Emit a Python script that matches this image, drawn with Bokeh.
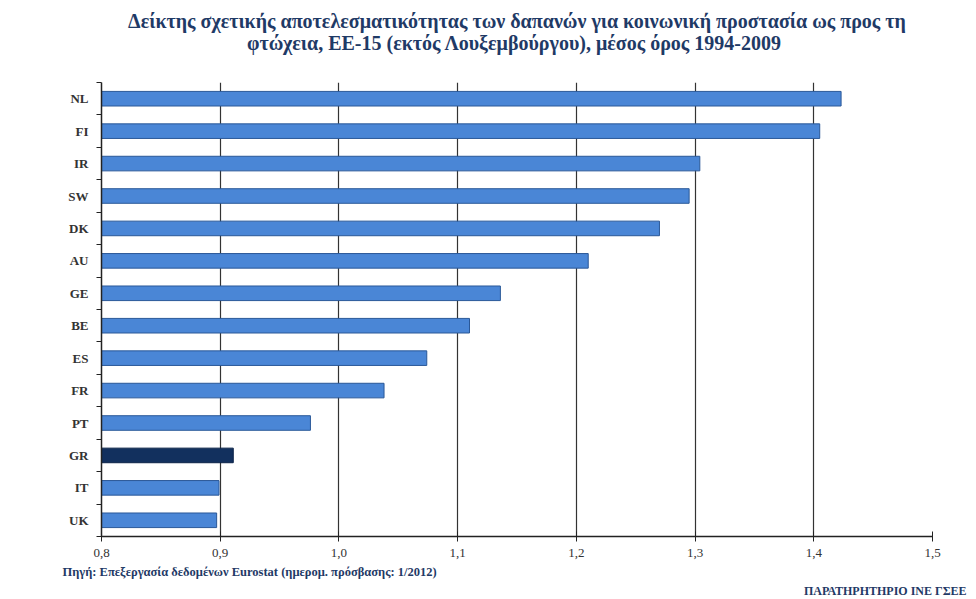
from bokeh.plotting import figure
from bokeh.models import FixedTicker, ColumnDataSource, Range1d, Title
from bokeh.embed import file_html
from bokeh.resources import INLINE

countries = ["NL", "FI", "IR", "SW", "DK", "AU", "GE", "BE", "ES", "FR", "PT", "GR", "IT", "UK"]
values = [1.423, 1.405, 1.304, 1.295, 1.270, 1.210, 1.136, 1.110, 1.074, 1.038, 0.976, 0.911, 0.899, 0.897]
highlight = "GR"
x_ticks = [0.8, 0.9, 1.0, 1.1, 1.2, 1.3, 1.4, 1.5]
x_tick_labels = ["0,8", "0,9", "1,0", "1,1", "1,2", "1,3", "1,4", "1,5"]
title_lines = [
    "Δείκτης σχετικής αποτελεσματικότητας των δαπανών για κοινωνική προστασία ως προς τη",
    "φτώχεια, ΕΕ-15 (εκτός Λουξεμβούργου),  μέσος όρος 1994-2009",
]
source_text = "Πηγή: Επεξεργασία δεδομένων Eurostat (ημερομ. πρόσβασης: 1/2012)"
credit_text = "ΠΑΡΑΤΗΡΗΤΗΡΙΟ ΙΝΕ ΓΣΕΕ"

FONT = "Liberation Serif"
n = len(countries)
ys = [n - 0.5 - i for i in range(n)]
fills = ["#12305e" if c == highlight else "#4a86d6" for c in countries]
lines = ["#0c2348" if c == highlight else "#2a5898" for c in countries]
src = ColumnDataSource(dict(y=ys, right=values, left=[x_ticks[0]] * n, fill=fills, line=lines))

W, H = 968, 597
FL, FR, FT, FB = 101, 932, 82, 540
p = figure(width=W, height=H, output_backend="svg", toolbar_location=None,
           x_range=Range1d(0.8, 1.5), y_range=Range1d(0, n),
           min_border_left=FL, min_border_right=W - FR, min_border_top=FT, min_border_bottom=H - FB)
p.outline_line_color = None
p.background_fill_color = "white"

p.hbar(y="y", left="left", right="right", height=0.45, source=src,
       fill_color="fill", line_color="line", line_width=1)

xa = p.xaxis[0]
xa.ticker = FixedTicker(ticks=x_ticks, minor_ticks=[])
xa.major_label_overrides = {t: l for t, l in zip(x_ticks, x_tick_labels)}
xa.major_tick_in = 5
xa.major_tick_out = 5
xa.major_tick_line_color = "#222222"
xa.axis_line_color = "#222222"
xa.axis_line_width = 1.5
xa.major_label_text_font = FONT
xa.major_label_text_font_size = "13px"
xa.major_label_text_color = "#333333"
xa.major_label_standoff = 7

ya = p.yaxis[0]
ya.ticker = FixedTicker(ticks=ys, minor_ticks=list(range(n + 1)))
ya.major_label_overrides = {y: c for y, c in zip(ys, countries)}
ya.major_tick_out = 0
ya.major_tick_in = 0
ya.minor_tick_out = 5
ya.minor_tick_in = 0
ya.minor_tick_line_color = "#222222"
ya.axis_line_color = "#222222"
ya.axis_line_width = 1.5
ya.major_label_text_font = FONT
ya.major_label_text_font_style = "bold"
ya.major_label_text_font_size = "13px"
ya.major_label_text_color = "#333333"
ya.major_label_standoff = 8

p.ygrid.grid_line_color = None
p.xgrid.grid_line_color = "#333333"
p.xgrid.grid_line_width = 1.2

# title lines, first added sits closest to the frame
p.add_layout(Title(text=title_lines[1], align="center", text_font=FONT, text_font_style="bold",
                   text_font_size="20px", text_color="#1f3a66", standoff=58), "above")
p.add_layout(Title(text=title_lines[0], align="center", text_font=FONT, text_font_style="bold",
                   text_font_size="20px", text_color="#1f3a66", standoff=-62), "above")

p.add_layout(Title(text=source_text, align="left", offset=-39, text_font=FONT,
                   text_font_style="bold", text_font_size="12.5px", text_color="#1f3a66",
                   standoff=6), "below")
p.add_layout(Title(text=credit_text, align="right", offset=-34, text_font=FONT,
                   text_font_style="bold", text_font_size="12px", text_color="#1f3a66",
                   standoff=0), "below")

open("out.html", "w").write(file_html(p, INLINE))
